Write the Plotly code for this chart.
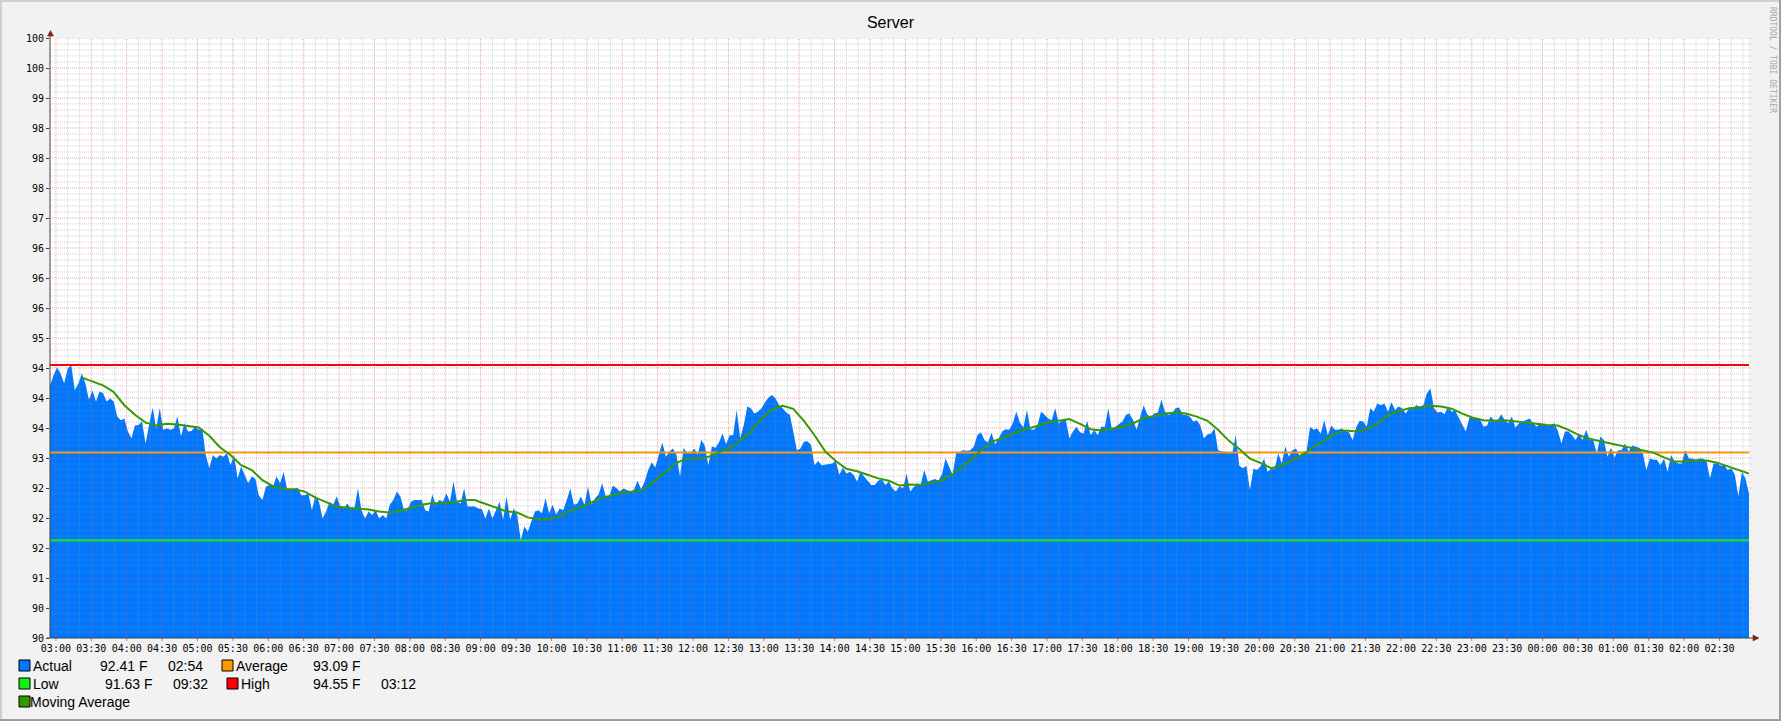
import plotly.graph_objects as go
from datetime import datetime, timedelta

# ---------------- data ----------------
TITLE = "Server"
START = datetime(2024, 1, 1, 2, 55)
SAMPLE_MINUTES = 3

actual = [
    94.21, 94.38, 94.51, 94.41, 94.24, 94.49, 94.55, 94.13, 94.24, 94.41,
    94.24, 93.97, 94.13, 93.94, 94.11, 94.08, 93.94, 93.99, 93.94, 93.69,
    93.63, 93.66, 93.44, 93.33, 93.54, 93.55, 93.61, 93.24, 93.55, 93.84,
    93.49, 93.83, 93.47, 93.49, 93.47, 93.49, 93.69, 93.36, 93.58, 93.44,
    93.45, 93.52, 93.47, 93.49, 93.05, 92.83, 93.05, 92.99, 93.05, 93.02,
    93.08, 92.88, 93.05, 92.66, 92.86, 92.72, 92.58, 92.69, 92.66, 92.38,
    92.30, 92.52, 92.55, 92.52, 92.69, 92.58, 92.77, 92.47, 92.47, 92.49,
    92.50, 92.38, 92.38, 92.41, 92.13, 92.38, 92.27, 91.99, 92.11, 92.27,
    92.22, 92.36, 92.19, 92.16, 92.24, 92.16, 92.16, 92.49, 92.13, 91.99,
    92.11, 92.05, 92.13, 91.99, 92.05, 91.99, 92.22,
    92.30, 92.44, 92.36, 92.13, 92.13, 92.27, 92.30, 92.30, 92.30, 92.13,
    92.11, 92.39, 92.22, 92.30, 92.27, 92.41, 92.27, 92.61, 92.27, 92.24,
    92.49, 92.19, 92.19, 92.19, 92.16, 92.15, 91.99, 92.16, 91.99, 92.13,
    92.27, 91.97, 92.36, 91.97, 92.16, 92.05, 91.63, 91.86, 91.77, 91.94,
    92.11, 92.13, 92.08, 92.33, 92.08, 92.22, 92.06, 92.16, 92.13, 92.30,
    92.49, 92.22, 92.24, 92.36, 92.22, 92.52, 92.22, 92.33, 92.39, 92.58,
    92.36, 92.36, 92.54, 92.50, 92.44, 92.49, 92.47, 92.44, 92.47, 92.62,
    92.48, 92.61, 92.80, 92.93, 92.84, 93.05, 93.26, 93.02, 93.11, 93.16,
    93.05, 92.69, 93.17, 93.08, 93.08, 93.16, 93.06, 93.30, 93.21, 92.88,
    93.19, 93.17, 93.26, 93.41, 93.23,
    93.38, 93.38, 93.80, 93.33, 93.55, 93.86, 93.83, 93.74, 93.77, 93.83,
    93.93, 94.01, 94.05, 93.99, 93.88, 93.83, 93.76, 93.72, 93.44, 93.13,
    93.16, 93.27, 93.28, 93.22, 92.88, 92.95, 92.88, 92.89, 92.89, 92.91,
    92.95, 92.72, 92.84, 92.74, 92.77, 92.72, 92.61, 92.77, 92.69, 92.62,
    92.55, 92.55, 92.62, 92.65, 92.55, 92.61, 92.49, 92.44, 92.53, 92.49,
    92.74, 92.44, 92.52, 92.58, 92.56, 92.80, 92.61, 92.63, 92.65, 92.62,
    92.73, 92.99, 92.86, 92.72, 93.08, 93.11, 93.13, 93.12, 93.13, 93.19,
    93.38, 93.43, 93.30, 93.26, 93.42, 93.23, 93.32, 93.44, 93.48, 93.47,
    93.58, 93.77, 93.59, 93.51, 93.80, 93.48, 93.47, 93.55, 93.77, 93.72,
    93.66, 93.63, 93.83, 93.58, 93.63, 93.63,
    93.33, 93.44, 93.52, 93.43, 93.41, 93.62, 93.38, 93.47, 93.38, 93.52,
    93.52, 93.83, 93.47, 93.52, 93.56, 93.61, 93.72, 93.74, 93.63, 93.47,
    93.69, 93.88, 93.72, 93.69, 93.74, 93.76, 93.97, 93.77, 93.72, 93.74,
    93.83, 93.84, 93.72, 93.72, 93.69, 93.61, 93.63, 93.54, 93.33, 93.39,
    93.41, 93.49, 93.13, 93.11, 93.09, 93.08, 93.08, 93.38, 92.87, 92.83,
    92.87, 92.47, 92.82, 92.80, 92.86, 92.99, 92.77, 92.82, 92.82, 93.08,
    92.91, 93.19, 93.02, 93.13, 93.16, 93.04, 93.11, 93.11, 93.52, 93.47,
    93.49, 93.41, 93.63, 93.38, 93.54, 93.47, 93.47, 93.49, 93.45, 93.43,
    93.30, 93.51, 93.62, 93.61, 93.52, 93.83, 93.77, 93.91, 93.88, 93.91,
    93.77, 93.93, 93.80, 93.86, 93.83, 93.74,
    93.83, 93.82, 93.88, 93.86, 93.88, 94.08, 94.16, 93.83, 93.76, 93.77,
    93.73, 93.86, 93.77, 93.79, 93.67, 93.56, 93.44, 93.67, 93.66, 93.66,
    93.65, 93.52, 93.54, 93.69, 93.63, 93.63, 93.73, 93.63, 93.58, 93.69,
    93.51, 93.58, 93.61, 93.63, 93.66, 93.58, 93.52, 93.58, 93.55, 93.55,
    93.55, 93.58, 93.45, 93.24, 93.44, 93.44, 93.38, 93.30, 93.41, 93.30,
    93.47, 93.30, 93.30, 93.08, 93.36, 93.30, 93.02, 93.17, 93.01, 93.13,
    93.13, 93.24, 93.11, 93.21, 93.19, 93.17, 93.08, 92.80, 92.99, 92.97,
    92.97, 92.88, 92.99, 92.77, 93.05, 92.94, 92.91, 92.91, 93.13, 92.99,
    92.99, 92.97, 92.99, 92.99, 92.94, 92.66, 92.91, 92.91, 92.87, 92.88,
    92.80, 92.83, 92.72, 92.36, 92.77, 92.66, 92.41,
]

MA_FIRST_SAMPLE = 9
MA_EVERY = 3
moving_average = [
    94.34, 94.27, 94.21, 94.10, 93.88, 93.72, 93.59, 93.54, 93.57, 93.56,
    93.53, 93.51, 93.37, 93.18, 93.05, 92.88, 92.80, 92.63, 92.53, 92.48,
    92.48, 92.44, 92.34, 92.27, 92.19, 92.17, 92.16, 92.14, 92.11, 92.09,
    92.12, 92.17, 92.22, 92.25, 92.24, 92.26, 92.30, 92.30, 92.24, 92.18,
    92.11, 92.09, 92.01, 91.98, 91.98, 92.02, 92.13, 92.18, 92.26, 92.34,
    92.38, 92.43, 92.44, 92.48, 92.63, 92.77, 92.92, 92.99, 92.99, 93.02,
    93.09,
    93.17, 93.29, 93.44, 93.66, 93.81, 93.87, 93.82, 93.62, 93.38, 93.11,
    92.95, 92.82, 92.78, 92.72, 92.66, 92.62, 92.54, 92.56, 92.55, 92.59,
    92.63, 92.73, 92.86, 93.02, 93.18, 93.29, 93.35, 93.43, 93.48, 93.53,
    93.59, 93.62,
    93.65, 93.57, 93.48, 93.46, 93.49, 93.52, 93.58, 93.66, 93.70, 93.74,
    93.76, 93.74, 93.69, 93.62, 93.47, 93.29, 93.15, 92.99, 92.92, 92.83,
    92.88, 92.96, 93.05, 93.19, 93.29, 93.41, 93.46, 93.44, 93.48, 93.57,
    93.71, 93.78,
    93.83, 93.84, 93.87, 93.86, 93.82, 93.74, 93.67, 93.63, 93.62, 93.63,
    93.61, 93.58, 93.56, 93.55, 93.54, 93.47, 93.38, 93.32, 93.28, 93.24,
    93.20, 93.17, 93.13, 93.09, 93.01, 92.94, 92.94, 92.96, 92.96, 92.92,
    92.86, 92.80, 92.74,
]

AVERAGE = 93.09
LOW, LOW_TIME = 91.63, "09:32"
HIGH, HIGH_TIME = 94.55, "03:12"
LAST, LAST_TIME = 92.41, "02:54"
UNIT = "F"

Y_MIN, Y_MAX = 90, 100
y_tick_values = [Y_MIN + 0.5 * i for i in range(21)]
y_tick_labels = [f"{v:.0f}" for v in y_tick_values]

# ---------------- styles ----------------
BLUE = "#0077FF"
ORANGE = "#FF9900"
LOWGREEN = "#11EE11"
RED = "#FF0000"
MAGREEN = "#339900"
BG = "#F2F2F2"
MONO = "DejaVu Sans Mono"
SANS = "Liberation Sans"
MAJOR = "rgba(222,79,79,0.5)"
MINOR = "rgba(150,150,150,0.42)"

W, H = 1781, 721
PL, PT, PW, PH = 50, 38, 1699, 600


def px(x):
    return (x - PL) / PW


def py(y):
    return (PT + PH - y) / PH


t_actual = [START + timedelta(minutes=SAMPLE_MINUTES * i) for i in range(len(actual))]
t_ma = [START + timedelta(minutes=SAMPLE_MINUTES * (MA_FIRST_SAMPLE + MA_EVERY * i))
        for i in range(len(moving_average))]
END = START + timedelta(hours=24)

fig = go.Figure()
fig.add_trace(go.Scatter(x=t_actual, y=actual, mode="lines", line=dict(width=0, color=BLUE),
                         fill="tozeroy", fillcolor=BLUE, showlegend=False, hoverinfo="skip"))
for val, col in [(AVERAGE, ORANGE), (LOW, LOWGREEN), (HIGH, RED)]:
    fig.add_trace(go.Scatter(x=[START, END], y=[val, val], mode="lines",
                             line=dict(color=col, width=2), showlegend=False, hoverinfo="skip"))
fig.add_trace(go.Scatter(x=t_ma, y=moving_average, mode="lines",
                         line=dict(color=MAGREEN, width=2), showlegend=False, hoverinfo="skip"))

shapes = []
# vertical grid (every 10 minutes, major every 30 with a short tick below the axis)
first_grid = START + timedelta(minutes=5)
for j in range(144):
    t = first_grid + timedelta(minutes=10 * j)
    major = (j % 3 == 0)
    shapes.append(dict(type="line", xref="x", yref="paper", x0=t, x1=t, y0=0, y1=1,
                       layer="above",
                       line=dict(color=MAJOR if major else MINOR, width=1, dash="1px,1px")))
    if major:
        shapes.append(dict(type="line", xref="x", yref="paper", x0=t, x1=t, y0=py(641), y1=0,
                           layer="above", line=dict(color="rgba(222,79,79,0.8)", width=1)))
# horizontal grid (every 0.1, major every 0.5)
for i in range(1, 101):
    v = Y_MIN + 0.1 * i
    major = (i % 5 == 0)
    shapes.append(dict(type="line", xref="paper", yref="y", x0=0, x1=px(1752), y0=v, y1=v,
                       layer="above",
                       line=dict(color=MAJOR if major else MINOR, width=1, dash="1px,1px")))
# axes lines
AX = "#404040"
ARROW = "#801F1F"
shapes.append(dict(type="line", xref="paper", yref="paper", x0=0, x1=0, y0=0, y1=py(33),
                   layer="above", line=dict(color=AX, width=1)))
shapes.append(dict(type="line", xref="paper", yref="paper", x0=px(47), x1=px(1755), y0=0, y1=0,
                   layer="above", line=dict(color=AX, width=1)))
shapes.append(dict(type="path", xref="paper", yref="paper", layer="above",
                   path=f"M {px(47.5)},{py(36)} L {px(53.5)},{py(36)} L {px(50.5)},{py(30.5)} Z",
                   fillcolor=ARROW, line=dict(color=ARROW, width=0.5)))
shapes.append(dict(type="path", xref="paper", yref="paper", layer="above",
                   path=f"M {px(1753)},{py(635)} L {px(1753)},{py(641)} L {px(1759)},{py(638)} Z",
                   fillcolor=ARROW, line=dict(color=ARROW, width=0.5)))
# frame shading
shapes.append(dict(type="rect", xref="paper", yref="paper", x0=px(0), x1=px(W), y0=py(0), y1=py(2),
                   fillcolor="#CFCFCF", line=dict(width=0), layer="above"))
shapes.append(dict(type="rect", xref="paper", yref="paper", x0=px(0), x1=px(2), y0=py(0), y1=py(H),
                   fillcolor="#CFCFCF", line=dict(width=0), layer="above"))
shapes.append(dict(type="rect", xref="paper", yref="paper", x0=px(0), x1=px(W), y0=py(H - 2), y1=py(H),
                   fillcolor="#9E9E9E", line=dict(width=0), layer="above"))
shapes.append(dict(type="rect", xref="paper", yref="paper", x0=px(W - 2), x1=px(W), y0=py(0), y1=py(H),
                   fillcolor="#9E9E9E", line=dict(width=0), layer="above"))

annotations = []


def legend_box(x, yc, color):
    shapes.append(dict(type="rect", xref="paper", yref="paper", x0=px(x), x1=px(x + 11),
                       y0=py(yc + 5.5), y1=py(yc - 5.5), fillcolor=color,
                       line=dict(color="black", width=1), layer="above"))


def legend_text(x, yc, text):
    annotations.append(dict(xref="paper", yref="paper", x=px(x), y=py(yc), text=text,
                            showarrow=False, xanchor="left", yanchor="middle",
                            font=dict(family=SANS, size=14, color="black")))


r1, r2, r3 = 665.5, 683.5, 701.5
legend_box(19, r1, BLUE)
legend_text(31, r1, "Actual")
legend_text(98, r1, f"{LAST:.2f} {UNIT}")
legend_text(165.5, r1, LAST_TIME)
legend_box(222, r1, ORANGE)
legend_text(234, r1, "Average")
legend_text(310.5, r1, f"{AVERAGE:.2f} {UNIT}")

legend_box(19, r2, LOWGREEN)
legend_text(31, r2, "Low")
legend_text(103, r2, f"{LOW:.2f} {UNIT}")
legend_text(171, r2, LOW_TIME)
legend_box(227, r2, RED)
legend_text(239, r2, "High")
legend_text(310.5, r2, f"{HIGH:.2f} {UNIT}")
legend_text(379, r2, HIGH_TIME)

legend_box(19, r3, MAGREEN)
legend_text(28, r3, "Moving Average")

annotations.append(dict(xref="paper", yref="paper", x=px(1772), y=py(60),
                        text="RRDTOOL / TOBI OETIKER", textangle=90, showarrow=False,
                        xanchor="center", yanchor="middle",
                        font=dict(family=MONO, size=8, color="#A8A8A8")))

fig.update_layout(
    width=W, height=H, autosize=False,
    paper_bgcolor=BG, plot_bgcolor="white",
    margin=dict(l=PL, r=W - PL - PW, t=PT, b=H - PT - PH, pad=0),
    title=dict(text=TITLE, x=0.5, xref="container", xanchor="center",
               y=1 - 22.5 / H, yref="container", yanchor="middle",
               font=dict(family=SANS, size=16, color="black")),
    showlegend=False,
    shapes=shapes,
    annotations=annotations,
    xaxis=dict(type="date", range=[START, END], showgrid=False, zeroline=False, showline=False,
               ticks="outside", ticklen=1, tickcolor="rgba(0,0,0,0)",
               tickformat="%H:%M", dtick=30 * 60 * 1000, tick0=first_grid,
               tickfont=dict(family=MONO, size=10, color="black"), fixedrange=True),
    yaxis=dict(range=[Y_MIN, Y_MAX], showgrid=False, zeroline=False, showline=False,
               tickmode="array", tickvals=y_tick_values, ticktext=y_tick_labels,
               ticks="outside", ticklen=3, tickcolor=AX,
               tickfont=dict(family=MONO, size=10, color="black"), fixedrange=True),
)

fig.write_html("out.html", config={"displayModeBar": False},
               post_script="document.body.style.margin='0';document.body.style.overflow='hidden';")
